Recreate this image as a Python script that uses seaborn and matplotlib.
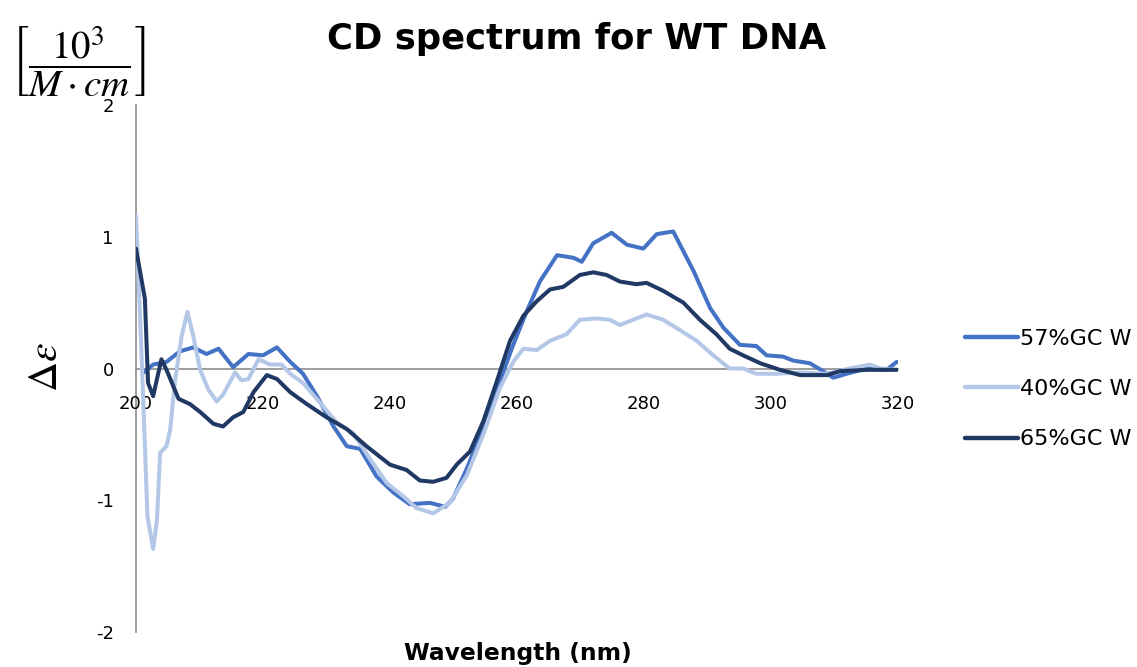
import numpy as np
import pandas as pd
import matplotlib
matplotlib.use("Agg")
import matplotlib.pyplot as plt
import seaborn as sns

# CD spectra (delta epsilon, 10^3 / M.cm) vs wavelength (nm)
series_names = ["57%GC W", "40%GC W", "65%GC W"]
series_colors = ["#4472C4", "#B4C7E7", "#203864"]

wl_57 = [201.2, 202.7, 204.8, 206.9, 209.0, 211.1, 213.0, 215.3, 217.7, 220.0,
         222.2, 224.3, 226.3, 228.5, 231.1, 233.2, 235.3, 237.9, 240.5, 243.1,
         246.3, 248.7, 249.9, 252.1, 254.7, 257.3, 259.4, 261.5, 263.6, 266.3,
         268.9, 270.2, 272.0, 274.9, 277.3, 279.9, 282.0, 284.6, 286.2, 287.8,
         290.4, 292.5, 295.1, 297.7, 299.3, 301.9, 303.5, 306.1, 308.2, 309.8,
         311.9, 315.1, 318.2, 319.8]
de_57 = [-0.03, 0.03, 0.05, 0.13, 0.16, 0.11, 0.15, 0.01, 0.11, 0.10,
         0.16, 0.05, -0.04, -0.21, -0.44, -0.59, -0.61, -0.82, -0.94, -1.03,
         -1.02, -1.05, -0.99, -0.76, -0.45, -0.10, 0.18, 0.43, 0.66, 0.86,
         0.84, 0.81, 0.95, 1.03, 0.94, 0.91, 1.02, 1.04, 0.89, 0.74,
         0.46, 0.31, 0.18, 0.17, 0.10, 0.09, 0.06, 0.04, -0.02, -0.07,
         -0.04, 0.00, -0.01, 0.05]

wl_40 = [200.0, 200.6, 201.3, 201.8, 202.7, 203.3, 203.8, 204.8, 205.4, 206.1,
         207.2, 208.1, 209.0, 210.1, 211.4, 212.7, 213.7, 215.6, 216.6, 217.7,
         219.3, 221.1, 222.9, 224.3, 226.3, 229.0, 231.6, 234.2, 236.9, 239.5,
         242.1, 244.2, 246.8, 249.4, 252.1, 254.7, 257.3, 259.4, 261.0, 263.1,
         265.2, 267.8, 269.9, 272.5, 274.6, 276.2, 278.3, 280.4, 283.0, 285.7,
         288.3, 290.9, 293.5, 295.6, 297.7, 300.9, 304.6, 308.8, 312.4, 315.6,
         317.2, 319.8]
de_40 = [1.16, 0.45, -0.45, -1.12, -1.37, -1.15, -0.64, -0.59, -0.46, -0.11,
         0.25, 0.43, 0.25, -0.01, -0.16, -0.25, -0.20, -0.03, -0.09, -0.08,
         0.07, 0.03, 0.03, -0.04, -0.11, -0.26, -0.41, -0.49, -0.69, -0.87,
         -0.97, -1.06, -1.10, -1.02, -0.81, -0.50, -0.15, 0.05, 0.15, 0.14,
         0.21, 0.26, 0.37, 0.38, 0.37, 0.33, 0.37, 0.41, 0.37, 0.29,
         0.21, 0.10, 0.00, 0.00, -0.04, -0.04, -0.03, -0.04, 0.00, 0.03,
         0.00, -0.01]

wl_65 = [200.0, 201.4, 201.9, 202.7, 204.0, 204.8, 206.7, 208.5, 210.1, 212.2,
         213.7, 215.3, 216.9, 218.5, 220.6, 222.2, 224.3, 226.9, 230.0, 233.2,
         236.3, 240.0, 242.6, 244.7, 246.8, 248.9, 250.5, 252.6, 254.7, 256.8,
         258.9, 261.0, 263.1, 265.2, 267.3, 269.9, 272.0, 274.1, 276.2, 278.8,
         280.4, 283.0, 286.2, 288.8, 291.4, 293.5, 295.6, 298.3, 301.4, 304.6,
         308.8, 310.9, 315.1, 319.8]
de_65 = [0.91, 0.53, -0.11, -0.21, 0.07, -0.01, -0.23, -0.27, -0.33, -0.42,
         -0.44, -0.37, -0.33, -0.18, -0.05, -0.08, -0.18, -0.27, -0.37, -0.46,
         -0.59, -0.73, -0.77, -0.85, -0.86, -0.83, -0.73, -0.63, -0.40, -0.10,
         0.21, 0.40, 0.51, 0.60, 0.62, 0.71, 0.73, 0.71, 0.66, 0.64,
         0.65, 0.59, 0.50, 0.37, 0.26, 0.15, 0.10, 0.04, -0.01, -0.05,
         -0.05, -0.02, -0.01, -0.01]

x_ticks = [200, 220, 240, 260, 280, 300, 320]
y_ticks = [-2, -1, 0, 1, 2]

frames = []
for name, wl, de in zip(series_names, [wl_57, wl_40, wl_65], [de_57, de_40, de_65]):
    frames.append(pd.DataFrame({"wavelength": wl, "delta_eps": de, "sample": name}))
df = pd.concat(frames, ignore_index=True)

sns.set_theme(style="white")
plt.rcParams["font.family"] = ["DejaVu Sans"]
plt.rcParams["mathtext.fontset"] = "stix"
plt.rcParams["text.color"] = "black"
plt.rcParams["axes.labelcolor"] = "black"

fig = plt.figure(figsize=(11.37, 6.67), dpi=100)
ax = fig.add_axes([136 / 1137, 1 - 632 / 667, (898 - 136) / 1137, (632 - 105) / 667])

sns.lineplot(data=df, x="wavelength", y="delta_eps", hue="sample",
             hue_order=series_names, palette=series_colors, sort=False,
             linewidth=2.9, ax=ax, legend=True)

ax.set_xlim(200, 320)
ax.set_ylim(-2, 2)
ax.set_xticks(x_ticks)
ax.set_yticks(y_ticks)
ax.set_xticklabels([str(t) for t in x_ticks])
ax.set_yticklabels([str(t) for t in y_ticks])
ax.set_xlabel("")
ax.set_ylabel("")

for side in ["top", "right"]:
    ax.spines[side].set_visible(False)
ax.spines["bottom"].set_position(("data", 0))
for side in ["bottom", "left"]:
    ax.spines[side].set_color("#8c8c8c")
    ax.spines[side].set_linewidth(1.2)
    ax.spines[side].set_zorder(0)

ax.tick_params(axis="x", length=0, pad=19, labelsize=13, labelcolor="black")
ax.tick_params(axis="y", length=0, pad=16, labelsize=13, labelcolor="black")

handles, labels = ax.get_legend_handles_labels()
for h in handles:
    h.set_linewidth(3.2)
leg = ax.legend(handles, labels, loc="upper left",
                bbox_to_anchor=(965 / 1137, 1 - 329 / 667), bbox_transform=fig.transFigure,
                frameon=False, fontsize=16, handlelength=2.4, handletextpad=0.08,
                labelspacing=1.36, borderpad=0, borderaxespad=0)
for t in leg.get_texts():
    t.set_color("black")

fig.text(577 / 1137, 1 - 49 / 667, "CD spectrum for WT DNA", color="black",
         ha="center", va="baseline", fontsize=25.5, fontweight="bold")
fig.text(518 / 1137, 1 - 660 / 667, "Wavelength (nm)", color="black",
         ha="center", va="baseline", fontsize=16.8, fontweight="bold")
fig.text(45 / 1137, 1 - 367 / 667, r"$\Delta\varepsilon$", color="black",
         ha="center", va="center", rotation=90, fontsize=30)
fig.text(78 / 1137, 1 - 62 / 667, r"$\left[\dfrac{10^{3}}{M\cdot cm}\right]$",
         color="black", ha="center", va="center", fontsize=28)

fig.savefig("out.png", dpi=100, facecolor="white")
